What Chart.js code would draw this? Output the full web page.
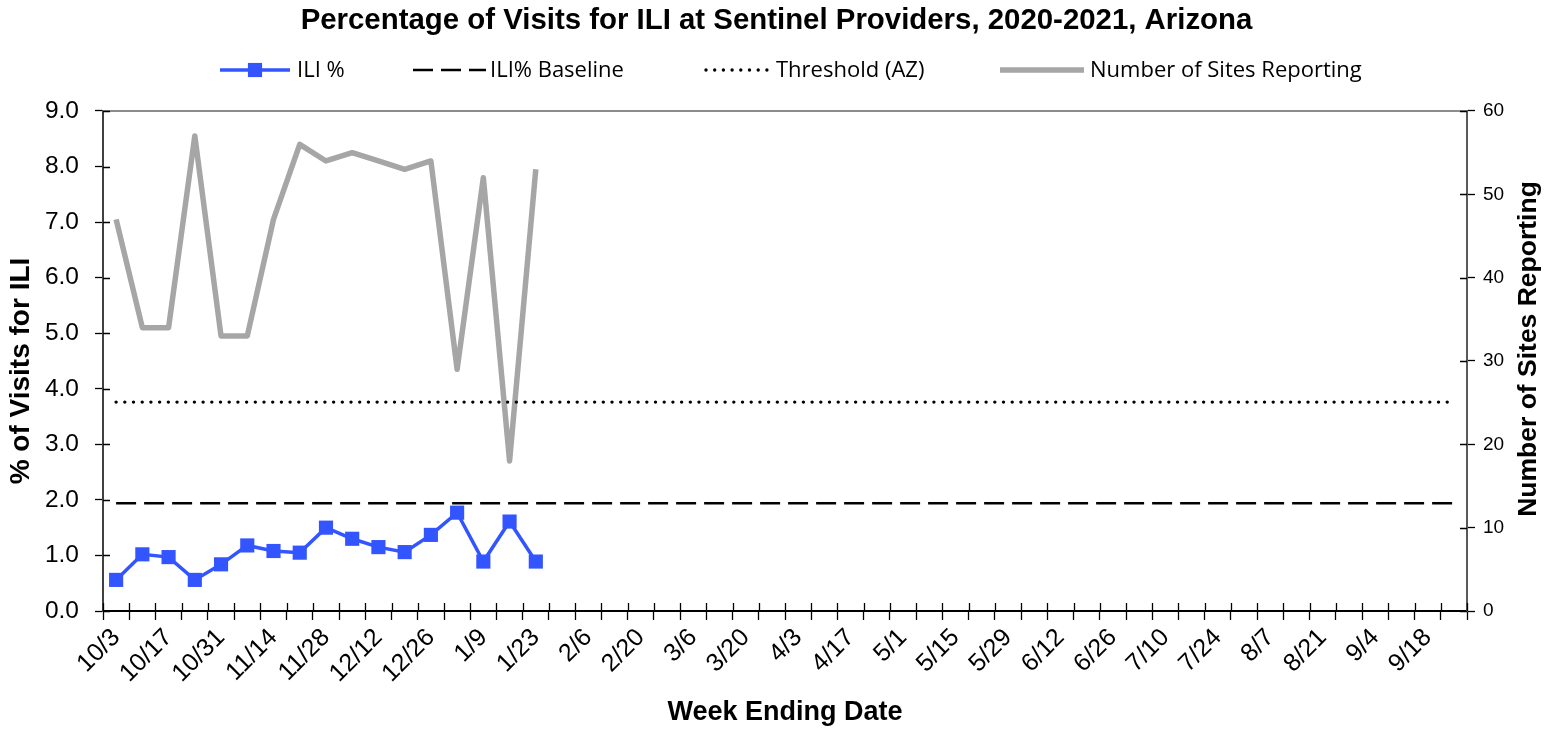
<!DOCTYPE html>
<html>
<head>
<meta charset="utf-8">
<title>ILI Arizona 2020-2021</title>
<script src="https://cdn.jsdelivr.net/npm/chart.js@4.4.1/dist/chart.umd.min.js"></script>
<style>
  html, body { margin: 0; padding: 0; background: #ffffff; }
  #wrap { width: 1553px; height: 730px; }
</style>
</head>
<body>
<div id="wrap"><canvas id="iliChart" width="1553" height="730"></canvas></div>
<script>
// Semanas (data de fim de semana), 2020-2021
const weeks = [
  "10/3", "10/10", "10/17", "10/24", "10/31", "11/7", "11/14", "11/21", "11/28",
  "12/5", "12/12", "12/19", "12/26", "1/2", "1/9", "1/16", "1/23", "1/30",
  "2/6", "2/13", "2/20", "2/27", "3/6", "3/13", "3/20", "3/27", "4/3", "4/10",
  "4/17", "4/24", "5/1", "5/8", "5/15", "5/22", "5/29", "6/5", "6/12", "6/19",
  "6/26", "7/3", "7/10", "7/17", "7/24", "7/31", "8/7", "8/14", "8/21", "8/28",
  "9/4", "9/11", "9/18", "9/25"
];

// % de visitas ILI (só até 1/23)
const iliPercent = [0.56, 1.02, 0.97, 0.56, 0.84, 1.18, 1.08, 1.05, 1.50, 1.30, 1.15, 1.06, 1.37, 1.77, 0.89, 1.61, 0.89];

// Número de sites a reportar
const sitesReporting = [47, 34, 34, 57, 33, 33, 47, 56, 54, 55, 54, 53, 54, 29, 52, 18, 53];

// Linhas de referência
const baselineValue = 1.94;
const thresholdValue = 3.76;
const baselineLine = weeks.map(() => baselineValue);
const thresholdLine = weeks.map(() => thresholdValue);

// Ticks dos eixos
const leftTicks = [0, 1, 2, 3, 4, 5, 6, 7, 8, 9];
const rightTicks = [0, 10, 20, 30, 40, 50, 60];

const ARIAL = "'Liberation Sans', Arial, sans-serif";
const LEGEND_FONT = "'Open Sans', 'Noto Sans', sans-serif";

// Legenda desenhada à mão (linha + texto)
const legendSlots = [
  { x0: 220, x1: 290, tx: 297 },
  { x0: 413, x1: 486, tx: 490 },
  { x0: 706, x1: 770, tx: 776 },
  { x0: 1000, x1: 1084, tx: 1090 }
];

const extrasPlugin = {
  id: "extras",
  afterDraw(chart) {
    const ctx = chart.ctx;
    const area = chart.chartArea;
    const xs = chart.scales.x;
    const ys = chart.scales.y;
    const y1 = chart.scales.y1;

    ctx.save();
    // linha de topo
    ctx.strokeStyle = "#8c8c8c";
    ctx.lineWidth = 2;
    ctx.beginPath();
    ctx.moveTo(area.left, area.top);
    ctx.lineTo(area.right, area.top);
    ctx.stroke();

    // ticks para dentro
    ctx.strokeStyle = "#000";
    ctx.lineWidth = 1.3;
    ctx.beginPath();
    leftTicks.forEach(v => {
      const py = Math.round(ys.getPixelForValue(v)) + 0.5;
      ctx.moveTo(area.left, py);
      ctx.lineTo(area.left + 7, py);
    });
    rightTicks.forEach(v => {
      const py = Math.round(y1.getPixelForValue(v)) + 0.5;
      ctx.moveTo(area.right, py);
      ctx.lineTo(area.right - 7, py);
    });
    for (let i = 0; i <= weeks.length; i++) {
      const px = Math.round(xs.getPixelForValue(i - 0.5)) + 0.5;
      ctx.moveTo(px, area.bottom);
      ctx.lineTo(px, area.bottom - 8);
    }
    ctx.stroke();
    ctx.restore();

    // títulos dos eixos verticais (de baixo para cima)
    ctx.save();
    ctx.fillStyle = "#000";
    ctx.textAlign = "center";
    ctx.textBaseline = "middle";
    ctx.font = "bold 28px " + ARIAL;
    ctx.translate(21, 371);
    ctx.rotate(-Math.PI / 2);
    ctx.fillText("% of Visits for ILI", 0, 0);
    ctx.restore();

    ctx.save();
    ctx.fillStyle = "#000";
    ctx.textAlign = "center";
    ctx.textBaseline = "middle";
    ctx.font = "bold 26.5px " + ARIAL;
    ctx.translate(1529, 349);
    ctx.rotate(-Math.PI / 2);
    ctx.fillText("Number of Sites Reporting", 0, 0);
    ctx.restore();

    // legenda
    const ly = 70;
    ctx.save();
    chart.data.datasets.forEach((ds, i) => {
      const s = legendSlots[i];
      ctx.strokeStyle = ds.borderColor;
      ctx.lineWidth = ds.borderWidth;
      ctx.lineCap = ds.borderCapStyle || "butt";
      ctx.setLineDash(ds.borderDash || []);
      ctx.beginPath();
      ctx.moveTo(s.x0, ly);
      ctx.lineTo(s.x1, ly);
      ctx.stroke();
      ctx.setLineDash([]);
      if (ds.pointRadius > 0) {
        const half = ds.pointRadius * Math.SQRT1_2;
        ctx.fillStyle = ds.pointBackgroundColor;
        ctx.fillRect((s.x0 + s.x1) / 2 - half, ly - half, half * 2, half * 2);
      }
      ctx.fillStyle = "#000";
      ctx.font = "22px " + LEGEND_FONT;
      ctx.textAlign = "left";
      ctx.textBaseline = "middle";
      ctx.fillText(ds.label, s.tx, ly + 1);
    });
    ctx.restore();
  }
};

const ctx = document.getElementById("iliChart").getContext("2d");
const iliChart = new Chart(ctx, {
  type: "line",
  data: {
    labels: weeks,
    datasets: [
      {
        label: "ILI %",
        data: iliPercent,
        yAxisID: "y",
        borderColor: "#3355ff",
        backgroundColor: "#3355ff",
        borderWidth: 3.5,
        pointStyle: "rect",
        pointRadius: 10,
        pointBorderWidth: 0,
        pointBackgroundColor: "#3355ff",
        order: 0
      },
      {
        label: "ILI% Baseline",
        data: baselineLine,
        yAxisID: "y",
        borderColor: "#000000",
        borderWidth: 2.5,
        borderDash: [20, 8],
        pointRadius: 0,
        order: 1
      },
      {
        label: "Threshold (AZ)",
        data: thresholdLine,
        yAxisID: "y",
        borderColor: "#000000",
        borderWidth: 3.4,
        borderDash: [0, 8.7],
        borderCapStyle: "round",
        pointRadius: 0,
        order: 2
      },
      {
        label: "Number of Sites Reporting",
        data: sitesReporting,
        yAxisID: "y1",
        borderColor: "#a6a6a6",
        backgroundColor: "#a6a6a6",
        borderWidth: 5.5,
        borderJoinStyle: "round",
        pointRadius: 0,
        order: 3
      }
    ]
  },
  options: {
    responsive: false,
    animation: false,
    devicePixelRatio: 1,
    layout: { padding: 0 },
    plugins: {
      legend: { display: false },
      tooltip: { enabled: false },
      title: {
        display: true,
        text: "Percentage of Visits for ILI at Sentinel Providers, 2020-2021, Arizona",
        color: "#000",
        font: { family: ARIAL, size: 29.4, weight: "bold" },
        padding: { top: 3, bottom: 72.7 }
      }
    },
    scales: {
      x: {
        type: "category",
        offset: true,
        afterFit: (scale) => { scale.height = 119; },
        grid: {
          display: true,
          offset: true,
          drawOnChartArea: false,
          drawTicks: true,
          tickLength: 9,
          tickColor: "#000",
          tickWidth: 1.3
        },
        border: { display: true, color: "#000", width: 2 },
        ticks: {
          autoSkip: false,
          maxRotation: 45,
          minRotation: 45,
          padding: 3,
          color: "#000",
          font: { family: ARIAL, size: 25 },
          callback: (val, idx) => (idx % 2 === 0 ? weeks[idx] : "")
        },
        title: {
          display: true,
          text: "Week Ending Date",
          color: "#000",
          font: { family: ARIAL, size: 27, weight: "bold" },
          padding: { top: 0, bottom: 1 }
        }
      },
      y: {
        position: "left",
        min: 0,
        max: 9,
        afterFit: (scale) => { scale.width = 103; },
        grid: {
          display: true,
          drawOnChartArea: false,
          tickLength: 8,
          tickColor: "#000",
          tickWidth: 1.3
        },
        border: { display: true, color: "#404040", width: 2 },
        ticks: {
          stepSize: 1,
          padding: 16,
          color: "#000",
          font: { family: ARIAL, size: 24.5 },
          callback: (v) => Number(v).toFixed(1)
        }
      },
      y1: {
        position: "right",
        min: 0,
        max: 60,
        afterFit: (scale) => { scale.width = 86; },
        grid: {
          display: true,
          drawOnChartArea: false,
          tickLength: 8,
          tickColor: "#000",
          tickWidth: 1.3
        },
        border: { display: true, color: "#595959", width: 2 },
        ticks: {
          stepSize: 10,
          padding: 8,
          color: "#000",
          font: { family: ARIAL, size: 19 }
        }
      }
    }
  },
  plugins: [extrasPlugin]
});
</script>
</body>
</html>
